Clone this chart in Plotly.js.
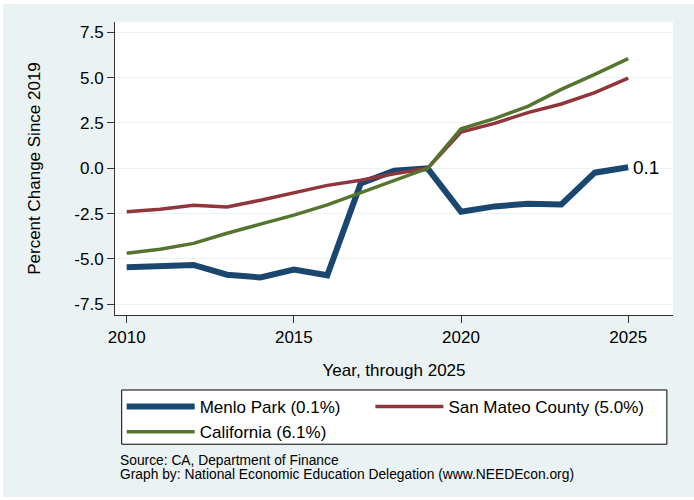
<!DOCTYPE html>
<html>
<head>
<meta charset="utf-8">
<script src="https://cdn.plot.ly/plotly-3.0.1.min.js"></script>
<style>
html,body{margin:0;padding:0;background:#ffffff;}
#chart{position:absolute;left:3px;top:4px;width:691px;height:493px;}
</style>
</head>
<body>
<div id="chart"></div>
<script>
var years = [2010,2011,2012,2013,2014,2015,2016,2017,2018,2019,2020,2021,2022,2023,2024,2025];
var menloPark = [-5.46,-5.42,-5.33,-5.87,-6.02,-5.58,-5.90,-0.83,-0.13,0.0,-2.39,-2.10,-1.96,-1.99,-0.24,0.06];
var sanMateo = [-2.39,-2.26,-2.04,-2.13,-1.76,-1.36,-0.94,-0.66,-0.30,0.0,2.00,2.48,3.07,3.55,4.17,4.97];
var california = [-4.69,-4.46,-4.14,-3.58,-3.08,-2.58,-2.02,-1.36,-0.66,0.0,2.18,2.74,3.42,4.35,5.18,6.05];
var seriesNames = ["Menlo Park (0.1%)","San Mateo County (5.0%)","California (6.1%)"];
var yTickVals = [-7.5,-5,-2.5,0,2.5,5,7.5];
var yTickText = ["-7.5","-5.0","-2.5","0.0","2.5","5.0","7.5"];
var xTickVals = [2010,2015,2020,2025];
var sourceLines = ["Source: CA, Department of Finance","Graph by: National Economic Education Delegation (www.NEEDEcon.org)"];

var FONT = "Liberation Sans, Arial, Helvetica, sans-serif";
var traces = [
  {x: years, y: menloPark, name: seriesNames[0], type: "scatter", mode: "lines",
   legend: "legend", line: {color: "#1a476f", width: 6}},
  {x: years, y: sanMateo, name: seriesNames[1], type: "scatter", mode: "lines",
   legend: "legend2", line: {color: "#90353b", width: 3.5}},
  {x: years, y: california, name: seriesNames[2], type: "scatter", mode: "lines",
   legend: "legend", line: {color: "#55752f", width: 3.5}}
];

var legendCommon = {
  orientation: "v",
  xanchor: "left",
  yanchor: "top",
  y: -0.2526,
  bgcolor: "rgba(0,0,0,0)",
  borderwidth: 0,
  itemwidth: 68,
  tracegroupgap: 0,
  font: {size: 17}
};

var lastIdx = years.length - 1;
var layout = {
  width: 691, height: 493,
  margin: {l: 112, r: 21, t: 18, b: 182},
  paper_bgcolor: "#eaf2f3",
  plot_bgcolor: "#ffffff",
  font: {family: FONT, size: 17, color: "#000000"},
  showlegend: true,
  xaxis: {
    range: [2009.65, 2026.34],
    tickvals: xTickVals,
    ticks: "outside", ticklen: 7, tickcolor: "#333333",
    showline: true, linecolor: "#333333", linewidth: 1,
    showgrid: false, zeroline: false,
    tickfont: {size: 17},
    title: {text: "Year, through 2025", font: {size: 17}, standoff: 17}
  },
  yaxis: {
    range: [-8.09, 8.07],
    tickvals: yTickVals, ticktext: yTickText,
    ticks: "outside", ticklen: 7, tickcolor: "#333333",
    showline: true, linecolor: "#333333", linewidth: 1,
    showgrid: true, gridcolor: "#eaf2f3", gridwidth: 1,
    zeroline: false,
    tickfont: {size: 17},
    title: {text: "Percent Change Since 2019", font: {size: 17}, standoff: 29}
  },
  legend: Object.assign({}, legendCommon, {x: 0.012}),
  legend2: Object.assign({}, legendCommon, {x: 0.4577}),
  shapes: [
    {type: "rect", xref: "paper", yref: "paper",
     x0: 0.012, x1: 0.989, y0: -0.256, y1: -0.441,
     fillcolor: "#ffffff", line: {color: "#000000", width: 1}, layer: "below"}
  ],
  annotations: [
    {x: years[lastIdx], y: menloPark[lastIdx], xref: "x", yref: "y",
     text: menloPark[lastIdx].toFixed(1), showarrow: false,
     xanchor: "left", yanchor: "middle", xshift: 3, font: {size: 19}},
    {x: 0.006, y: -0.497, xref: "paper", yref: "paper", text: sourceLines[0],
     showarrow: false, xanchor: "left", yanchor: "middle", font: {size: 13.8}},
    {x: 0.006, y: -0.546, xref: "paper", yref: "paper", text: sourceLines[1],
     showarrow: false, xanchor: "left", yanchor: "middle", font: {size: 13.8}}
  ]
};

Plotly.newPlot("chart", traces, layout, {displayModeBar: false, staticPlot: true});
</script>
</body>
</html>
